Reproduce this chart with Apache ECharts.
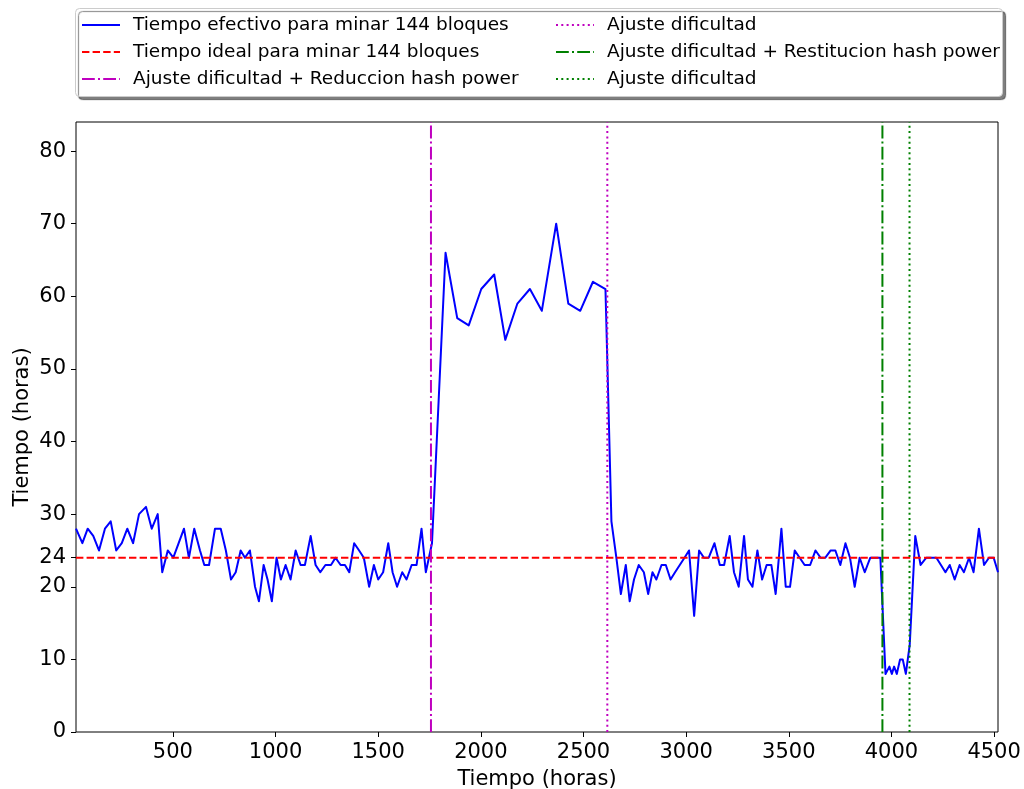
<!DOCTYPE html>
<html>
<head>
<meta charset="utf-8">
<script src="https://cdn.jsdelivr.net/npm/echarts@6/dist/echarts.min.js"></script>
<style>
  html, body { margin: 0; padding: 0; background: #ffffff; }
  #chart { width: 1024px; height: 789px; }
</style>
</head>
<body>
<div id="chart"></div>
<script>
// Tiempo acumulado (horas) al terminar cada bloque de 144 bloques
const horas = [
  28, 59, 85, 112, 140, 169, 197, 224, 251, 278, 306, 335, 369, 397, 426, 448, 475, 502, 528, 554, 578, 604, 632,
  653, 676, 705, 733, 758, 783, 806, 830, 851, 875, 900, 919, 942, 961, 982, 1005, 1026, 1049, 1073, 1098, 1122, 1143, 1171, 1195, 1218, 1243,
  1270, 1292, 1317, 1338, 1359, 1383, 1407, 1430, 1456, 1479, 1500, 1524, 1549, 1570, 1592, 1617, 1638, 1663, 1687, 1711, 1732, 1762,
  1828, 1885, 1941, 2002, 2065, 2119, 2178, 2239, 2297, 2367, 2426, 2484, 2546, 2607,
  2636, 2660, 2682, 2706, 2725, 2746, 2769, 2794, 2815, 2836, 2855, 2880, 2901, 2924, 2946, 2969, 2992, 3014, 3039, 3063, 3087, 3110, 3138, 3164, 3185, 3212,
  3233, 3256, 3282, 3301, 3323, 3347, 3370, 3392, 3415, 3436, 3464, 3485, 3506, 3529, 3553, 3577, 3604, 3630, 3655, 3678, 3704, 3727, 3751, 3776, 3798, 3821,
  3845, 3870, 3897, 3923, 3946, 3960, 3971, 3979, 3990, 4002, 4013, 4026, 4042, 4055, 4070, 4078, 4089, 4116,
  4142, 4170, 4194, 4219, 4241, 4263, 4284, 4308, 4332, 4353, 4378, 4400, 4426, 4451, 4475, 4498, 4519
];

// Tiempo efectivo (horas) para minar cada grupo de 144 bloques
const tiempos = [
  28, 26, 28, 27, 25, 28, 29, 25, 26, 28, 26, 30, 31, 28, 30, 22, 25, 24, 26, 28, 24, 28, 25,
  23, 23, 28, 28, 25, 21, 22, 25, 24, 25, 20, 18, 23, 21, 18, 24, 21, 23, 21, 25, 23, 23, 27, 23, 22, 23,
  23, 24, 23, 23, 22, 26, 25, 24, 20, 23, 21, 22, 26, 22, 20, 22, 21, 23, 23, 28, 22, 26,
  66, 57, 56, 61, 63, 54, 59, 61, 58, 70, 59, 58, 62, 61,
  29, 24, 19, 23, 18, 21, 23, 22, 19, 22, 21, 23, 23, 21, 22, 23, 24, 25, 16, 25, 24, 24, 26, 23, 23, 27,
  22, 20, 27, 21, 20, 25, 21, 23, 23, 19, 28, 20, 20, 25, 24, 23, 23, 25, 24, 24, 25, 25, 23, 26, 24, 20,
  24, 22, 24, 24, 24, 15, 8, 8, 9, 8, 9, 8, 10, 10, 8, 8, 12, 27,
  23, 24, 24, 24, 23, 22, 23, 21, 23, 22, 24, 22, 28, 23, 24, 24, 22
];

const tiempoIdeal = 24;

// Momentos de los ajustes de dificultad / cambios de hash power (horas)
const ajustes = [1757, 2616, 3956, 4088];

const xTicks = [500, 1000, 1500, 2000, 2500, 3000, 3500, 4000, 4500];
const yTicks = [0, 10, 20, 24, 30, 40, 50, 60, 70, 80];
const yMax = 84;

const etiquetas = {
  efectivo: 'Tiempo efectivo para minar 144 bloques',
  ideal: 'Tiempo ideal para minar 144 bloques',
  reduccion: 'Ajuste dificultad + Reduccion hash power',
  ajuste1: 'Ajuste dificultad',
  restitucion: 'Ajuste dificultad + Restitucion hash power',
  ajuste2: 'Ajuste dificultad'
};

const FONT = 'DejaVu Sans';
const xMin = horas[0];
const xMax = horas[horas.length - 1];

// Patrones de trazo (px)
const DASHED = [7.4, 3.2];
const DASHDOT = [12.8, 3.2, 2, 3.2];
const DOTTED = [2, 3.3];

function vertical(nombre, x, color, tipo) {
  return {
    name: nombre, type: 'line', symbol: 'none', silent: true,
    data: [[x, 0], [x, yMax]],
    lineStyle: { color: color, width: 2, type: tipo, cap: 'butt' },
    itemStyle: { color: color },
    z: 4
  };
}

const legendText = { fontSize: 18.5, fontFamily: FONT, color: '#000', lineHeight: 20, padding: [0, 0, 0, 8] };

function leyenda(left, nombres) {
  return {
    orient: 'vertical', left: left, top: 10, padding: 5,
    itemWidth: 38, itemHeight: 12, itemGap: 7,
    selectedMode: false, z: 5,
    itemStyle: { opacity: 0 },
    lineStyle: { width: 2 },
    data: nombres,
    formatter: n => etiquetas[n],
    textStyle: legendText
  };
}

const option = {
  animation: false,
  backgroundColor: '#ffffff',
  graphic: [{
    type: 'rect', left: 75, top: 8, z: 1,
    shape: { width: 927, height: 88, r: 4 },
    style: {
      fill: '#ffffff', stroke: '#cccccc', lineWidth: 1,
      shadowColor: 'rgba(0,0,0,0.5)', shadowOffsetX: 3, shadowOffsetY: 3, shadowBlur: 1
    }
  }],
  legend: [
    leyenda(76, ['efectivo', 'ideal', 'reduccion']),
    leyenda(550, ['ajuste1', 'restitucion', 'ajuste2'])
  ],
  grid: {
    left: 76, right: 26, top: 122, bottom: 57,
    outerBoundsMode: 'none', containLabel: false,
    show: true, borderColor: '#000', borderWidth: 1, backgroundColor: 'transparent'
  },
  xAxis: {
    type: 'value', min: xMin, max: xMax,
    name: 'Tiempo (horas)', nameLocation: 'middle', nameGap: 37, nameMoveOverlap: false,
    nameTextStyle: { fontSize: 21, fontFamily: FONT, color: '#000' },
    axisLine: { show: false },
    axisTick: { show: true, length: 5, lineStyle: { color: '#000', width: 1 }, customValues: xTicks },
    axisLabel: { fontSize: 21, fontFamily: FONT, color: '#000', margin: 10, customValues: xTicks, formatter: v => String(v) },
    splitLine: { show: false }
  },
  yAxis: {
    type: 'value', min: 0, max: yMax,
    name: 'Tiempo (horas)', nameLocation: 'middle', nameGap: 43, nameMoveOverlap: false,
    nameTextStyle: { fontSize: 21, fontFamily: FONT, color: '#000' },
    axisLine: { show: false },
    axisTick: { show: true, length: 5, lineStyle: { color: '#000', width: 1 }, customValues: yTicks },
    axisLabel: { fontSize: 21, fontFamily: FONT, color: '#000', margin: 10, padding: [6, 0, 0, 0], customValues: yTicks, formatter: v => String(v) },
    splitLine: { show: false }
  },
  series: [
    {
      name: 'efectivo', type: 'line', symbol: 'none', silent: true,
      data: horas.map((h, i) => [h, tiempos[i]]),
      lineStyle: { color: '#0000ff', width: 2, join: 'round' },
      itemStyle: { color: '#0000ff' },
      z: 2
    },
    {
      name: 'ideal', type: 'line', symbol: 'none', silent: true,
      data: [[xMin, tiempoIdeal], [xMax, tiempoIdeal]],
      lineStyle: { color: '#ff0000', width: 2, type: DASHED, cap: 'butt' },
      itemStyle: { color: '#ff0000' },
      z: 3
    },
    vertical('reduccion', ajustes[0], '#bf00bf', DASHDOT),
    vertical('ajuste1', ajustes[1], '#bf00bf', DOTTED),
    vertical('restitucion', ajustes[2], '#008000', DASHDOT),
    vertical('ajuste2', ajustes[3], '#008000', DOTTED)
  ]
};

const chart = echarts.init(document.getElementById('chart'), null, { renderer: 'canvas' });
chart.setOption(option);
</script>
</body>
</html>
